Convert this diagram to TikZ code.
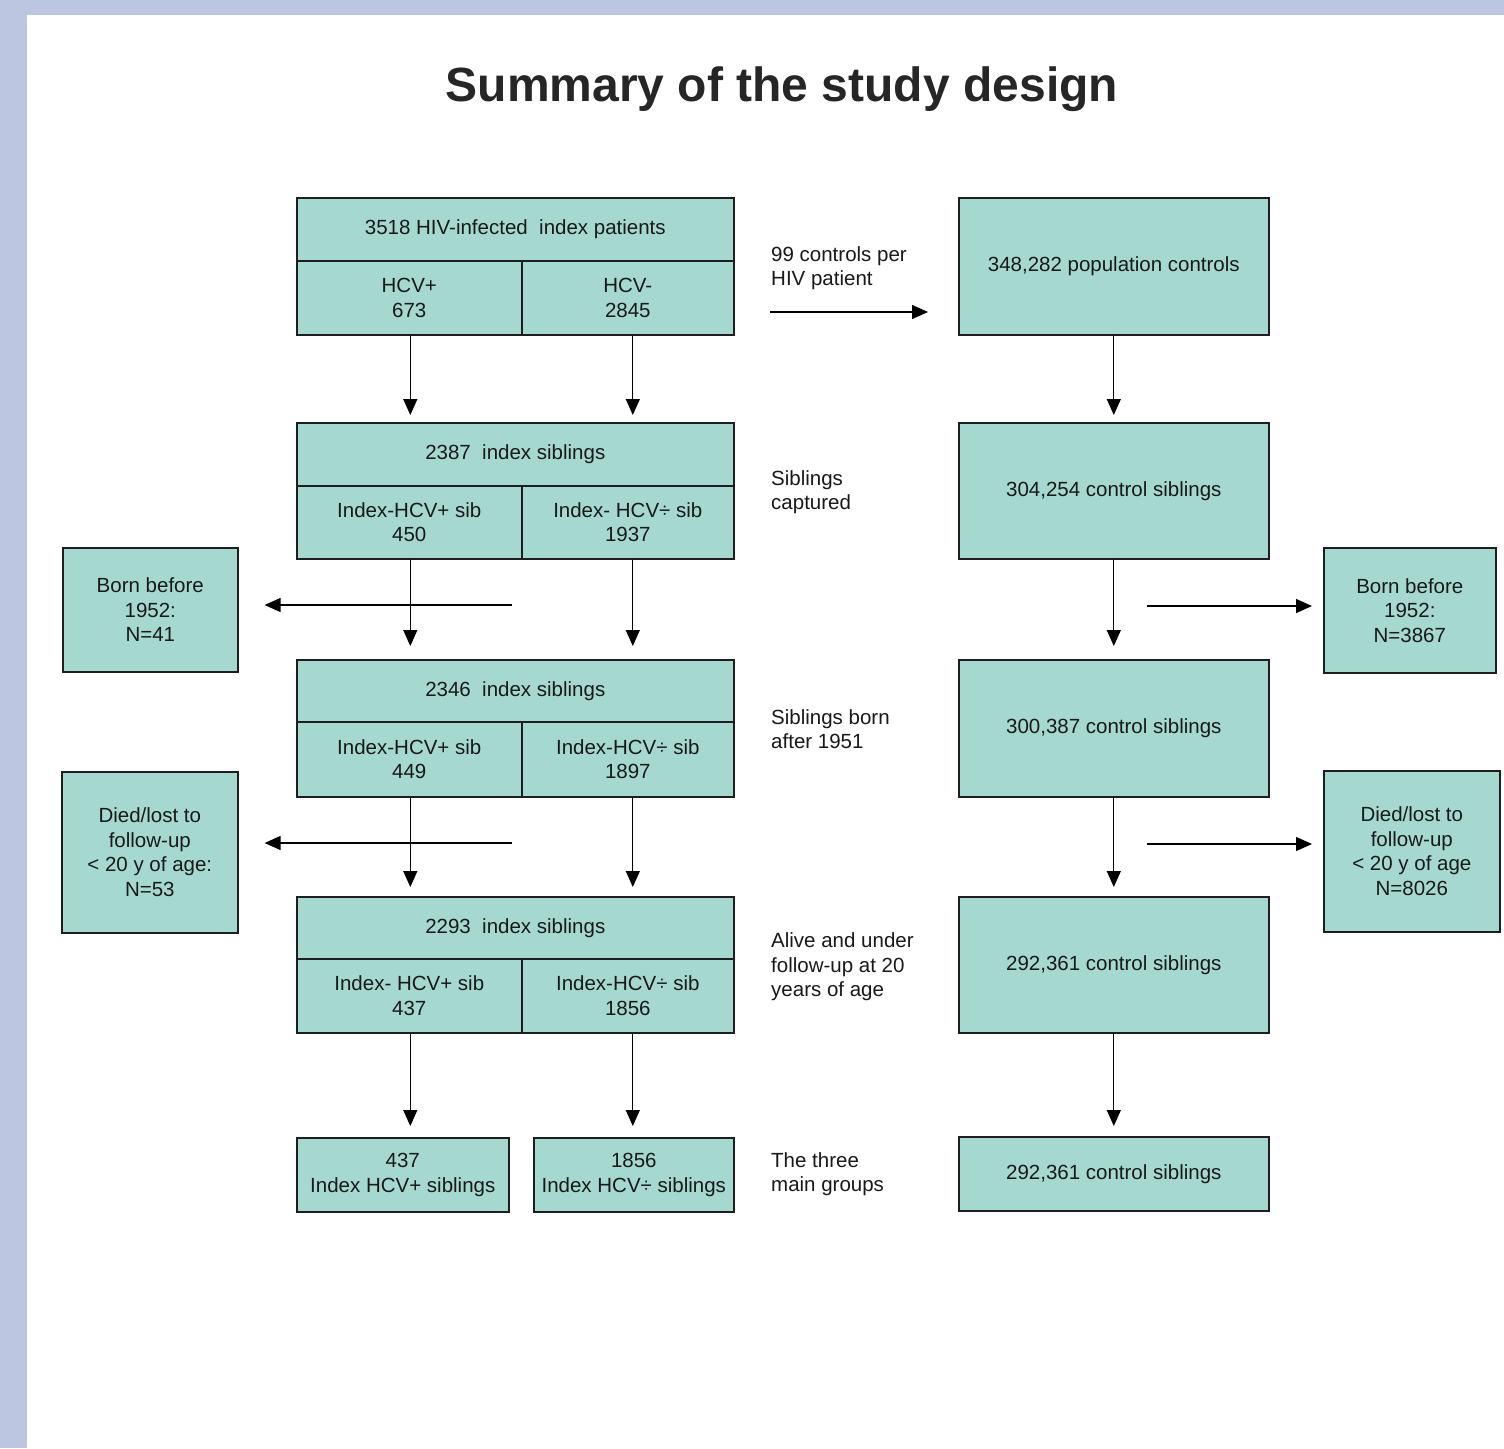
\documentclass[tikz,border=0pt]{standalone}
\usepackage{fontspec}
\setmainfont{Liberation Sans}
\usetikzlibrary{arrows.meta,calc}
\definecolor{framecol}{RGB}{189,198,224}
\definecolor{boxfill}{RGB}{165,217,207}
\definecolor{boxline}{RGB}{30,30,30}
\definecolor{txt}{RGB}{25,25,25}
\newcommand{\bxfont}{\fontsize{20.5}{24.5}\selectfont}
\tikzset{
  box/.style={draw=boxline, line width=1.6pt, fill=boxfill, align=center, font=\bxfont, text=txt, inner sep=0pt, anchor=north west},
  arr/.style={-{Triangle[length=16pt,width=14pt]}, line width=1.3pt, draw=black},
  lbl/.style={align=left, anchor=west, font=\bxfont, text=txt, inner sep=0pt}
}
\begin{document}
\begin{tikzpicture}[x=1pt,y=-1pt]
\useasboundingbox (0,0) rectangle (1504,1448);
\fill[white] (0,0) rectangle (1504,1448);
\fill[framecol] (0,0) rectangle (1504,15);
\fill[framecol] (0,0) rectangle (27,1448);

\node[font=\fontsize{48}{56}\selectfont\bfseries, text={rgb,255:red,38;green,38;blue,38}] (title) at (782,89) {Summary of the study design};

% ---- left column ----
\node[box, minimum width=437, minimum height=63] (a1h) at (296,197) {3518 HIV-infected\ \ index patients};
\node[box, minimum width=225, minimum height=74] (a1l) at (296,260) {HCV+\\673};
\node[box, minimum width=212, minimum height=74] (a1r) at (521,260) {HCV-\\2845};

\node[box, minimum width=437, minimum height=63] (a2h) at (296,422) {2387\ \ index siblings};
\node[box, minimum width=225, minimum height=73] (a2l) at (296,485) {Index-HCV+ sib\\450};
\node[box, minimum width=212, minimum height=73] (a2r) at (521,485) {Index- HCV÷ sib\\1937};

\node[box, minimum width=437, minimum height=62] (a3h) at (296,659) {2346\ \ index siblings};
\node[box, minimum width=225, minimum height=75] (a3l) at (296,721) {Index-HCV+ sib\\449};
\node[box, minimum width=212, minimum height=75] (a3r) at (521,721) {Index-HCV÷ sib\\1897};

\node[box, minimum width=437, minimum height=62] (a4h) at (296,896) {2293\ \ index siblings};
\node[box, minimum width=225, minimum height=74] (a4l) at (296,958) {Index- HCV+ sib\\437};
\node[box, minimum width=212, minimum height=74] (a4r) at (521,958) {Index-HCV÷ sib\\1856};

\node[box, minimum width=212, minimum height=74] (a5l) at (296,1137) {437\\Index HCV+ siblings};
\node[box, minimum width=200, minimum height=74] (a5r) at (533,1137) {1856\\Index HCV÷ siblings};

% ---- right column ----
\node[box, minimum width=310, minimum height=137] (r1) at (958,197) {348,282 population controls};
\node[box, minimum width=310, minimum height=136] (r2) at (958,422) {304,254 control siblings};
\node[box, minimum width=310, minimum height=137] (r3) at (958,659) {300,387 control siblings};
\node[box, minimum width=310, minimum height=136] (r4) at (958,896) {292,361 control siblings};
\node[box, minimum width=310, minimum height=74] (r5) at (958,1136) {292,361 control siblings};

% ---- side boxes ----
\node[box, minimum width=175, minimum height=124] (bl) at (62,547) {Born before\\1952:\\N=41};
\node[box, minimum width=176, minimum height=161] (dl) at (61,771) {Died/lost to\\follow-up\\< 20 y of age:\\N=53};
\node[box, minimum width=172, minimum height=125] (br) at (1323,547) {Born before\\1952:\\N=3867};
\node[box, minimum width=176, minimum height=161] (dr) at (1323,770) {Died/lost to\\follow-up\\< 20 y of age\\N=8026};

% ---- middle labels ----
\node[lbl] (m1) at (771,268) {99 controls per\\HIV patient};
\node[lbl] (m2) at (771,492) {Siblings\\captured};
\node[lbl] (m3) at (771,729) {Siblings born\\after 1951};
\node[lbl] (m4) at (771,967) {Alive and under\\follow-up at 20\\years of age};
\node[lbl] (m5) at (771,1174) {The three\\main groups};

% ---- vertical arrows, left ----
\draw[arr, shorten >=7pt] ([xshift=1pt]a1l.south) -- ([xshift=1pt]a1l.south |- a2h.north);
\draw[arr, shorten >=7pt] ([xshift=5pt]a1r.south) -- ([xshift=5pt]a1r.south |- a2h.north);
\draw[arr, shorten >=13pt] ([xshift=1pt]a2l.south) -- ([xshift=1pt]a2l.south |- a3h.north);
\draw[arr, shorten >=13pt] ([xshift=5pt]a2r.south) -- ([xshift=5pt]a2r.south |- a3h.north);
\draw[arr, shorten >=9pt] ([xshift=1pt]a3l.south) -- ([xshift=1pt]a3l.south |- a4h.north);
\draw[arr, shorten >=9pt] ([xshift=5pt]a3r.south) -- ([xshift=5pt]a3r.south |- a4h.north);
\draw[arr, shorten >=11pt] ([xshift=1pt]a4l.south) -- ([xshift=1pt]a4l.south |- a5l.north);
\draw[arr, shorten >=11pt] ([xshift=5pt]a4r.south) -- ([xshift=5pt]a4r.south |- a5r.north);

% ---- vertical arrows, right ----
\draw[arr, shorten >=7pt] (r1.south) -- (r2.north);
\draw[arr, shorten >=13pt] (r2.south) -- (r3.north);
\draw[arr, shorten >=9pt] (r3.south) -- (r4.north);
\draw[arr, shorten >=10pt] (r4.south) -- (r5.north);

% ---- horizontal arrows ----
\coordinate (hc) at (770,312);
\draw[arr, shorten >=30pt] (hc) -- (hc -| r1.west);
\coordinate (hl1) at (512,605);
\draw[arr, shorten >=26pt] (hl1) -- (hl1 -| bl.east);
\coordinate (hl2) at (512,843);
\draw[arr, shorten >=26pt] (hl2) -- (hl2 -| dl.east);
\coordinate (hr1) at (1147,606);
\draw[arr, shorten >=11pt] (hr1) -- (hr1 -| br.west);
\coordinate (hr2) at (1147,844);
\draw[arr, shorten >=11pt] (hr2) -- (hr2 -| dr.west);
\end{tikzpicture}
\end{document}
